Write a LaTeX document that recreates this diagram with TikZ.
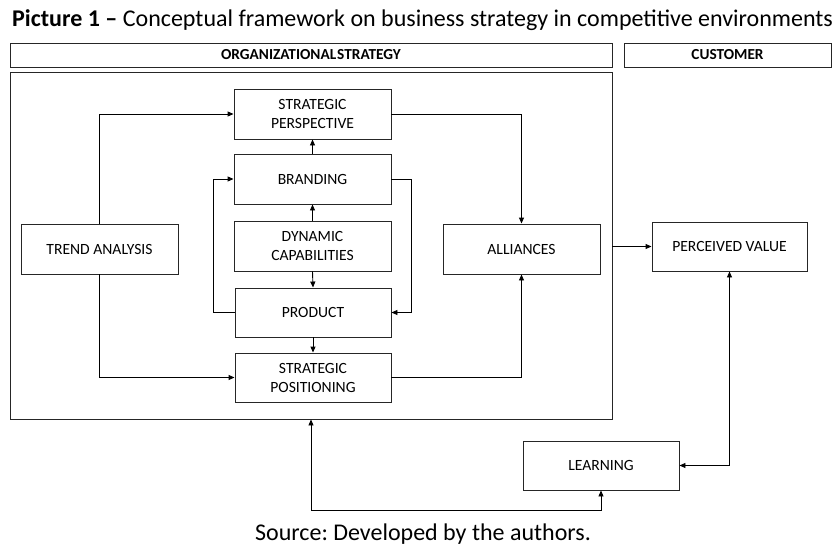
\documentclass[tikz,border=0pt]{standalone}
\usepackage{fontspec}
\setmainfont{Carlito}
\usetikzlibrary{arrows.meta}
\begin{document}
\frenchspacing
\begin{tikzpicture}[x=1pt,y=-1pt,
  box/.style={draw=black!85,line width=0.9pt,inner sep=0pt,align=center,
    font=\fontsize{15.6}{19}\selectfont},
  hdr/.style={draw=black!85,line width=0.9pt,inner sep=0pt,
    font=\fontsize{15.3}{17}\selectfont\bfseries},
  arr/.style={line width=0.9pt,-{Triangle[length=6pt,width=5pt]}},
  arrb/.style={line width=0.9pt,{Triangle[length=6pt,width=5pt]}-{Triangle[length=6pt,width=5pt]}}]
\useasboundingbox (0,0) rectangle (833,546);
\node[anchor=base west,inner sep=0pt,font=\fontsize{24}{28}\selectfont] (title) at (12,26)
  {\textbf{Picture 1 –} Conceptual framework on business strategy in competitive environments};
\node[hdr,minimum width=602pt,minimum height=24pt] (orghdr) at (311,55) {{\spaceskip=1pt ORGANIZATIONAL STRATEGY}};
\node[hdr,minimum width=207pt,minimum height=24pt] (custhdr) at (727.5,55) {CUSTOMER};
\node[draw=black!85,line width=0.9pt,minimum width=602pt,minimum height=347pt,inner sep=0pt] (main) at (311,245.5) {};
\node[box,minimum width=157pt,minimum height=50pt] (SP) at (312.5,114) {STRATEGIC\\PERSPECTIVE};
\node[box,minimum width=157pt,minimum height=50pt] (BR) at (312.5,179) {BRANDING};
\node[box,minimum width=157pt,minimum height=50pt] (DC) at (312.5,246) {DYNAMIC\\CAPABILITIES};
\node[box,minimum width=156pt,minimum height=49pt] (PR) at (313,312.5) {PRODUCT};
\node[box,minimum width=156pt,minimum height=49pt] (SPos) at (313,377.5) {STRATEGIC\\POSITIONING};
\node[box,minimum width=157pt,minimum height=50pt] (TA) at (99.5,249) {TREND ANALYSIS};
\node[box,minimum width=157pt,minimum height=50pt] (AL) at (521.5,249) {ALLIANCES};
\node[box,minimum width=155pt,minimum height=49pt] (PV) at (729.5,246.5) {PERCEIVED VALUE};
\node[box,minimum width=156pt,minimum height=49pt] (LE) at (601,465.5) {LEARNING};
\node[anchor=base,inner sep=0pt,font=\fontsize{24}{28}\selectfont] (src) at (423,540) {Source: Developed by the authors.};
\draw[arr] (TA.north) |- (SP.west);
\draw[arr] (TA.south) |- (SPos.west);
\draw[arr] (SP.east) -| (AL.north);
\draw[arr] (SPos.east) -| (AL.south);
\draw[arr] (DC.north) -- (BR.south);
\draw[arr] (BR.north) -- (SP.south);
\draw[arr] (DC.south) -- (PR.north);
\draw[arr] (PR.south) -- (SPos.north);
\draw[arr] (PR.west) -- ++(-21,0) |- (BR.west);
\draw[arr] (BR.east) -- ++(20,0) |- (PR.east);
\draw[arr] (main.east |- PV.west) -- (PV.west);
\draw[arrb] (PV.south) |- (LE.east);
\draw[arrb] (LE.south) -- ++(0,20) -| (main.south);
\end{tikzpicture}
\end{document}
